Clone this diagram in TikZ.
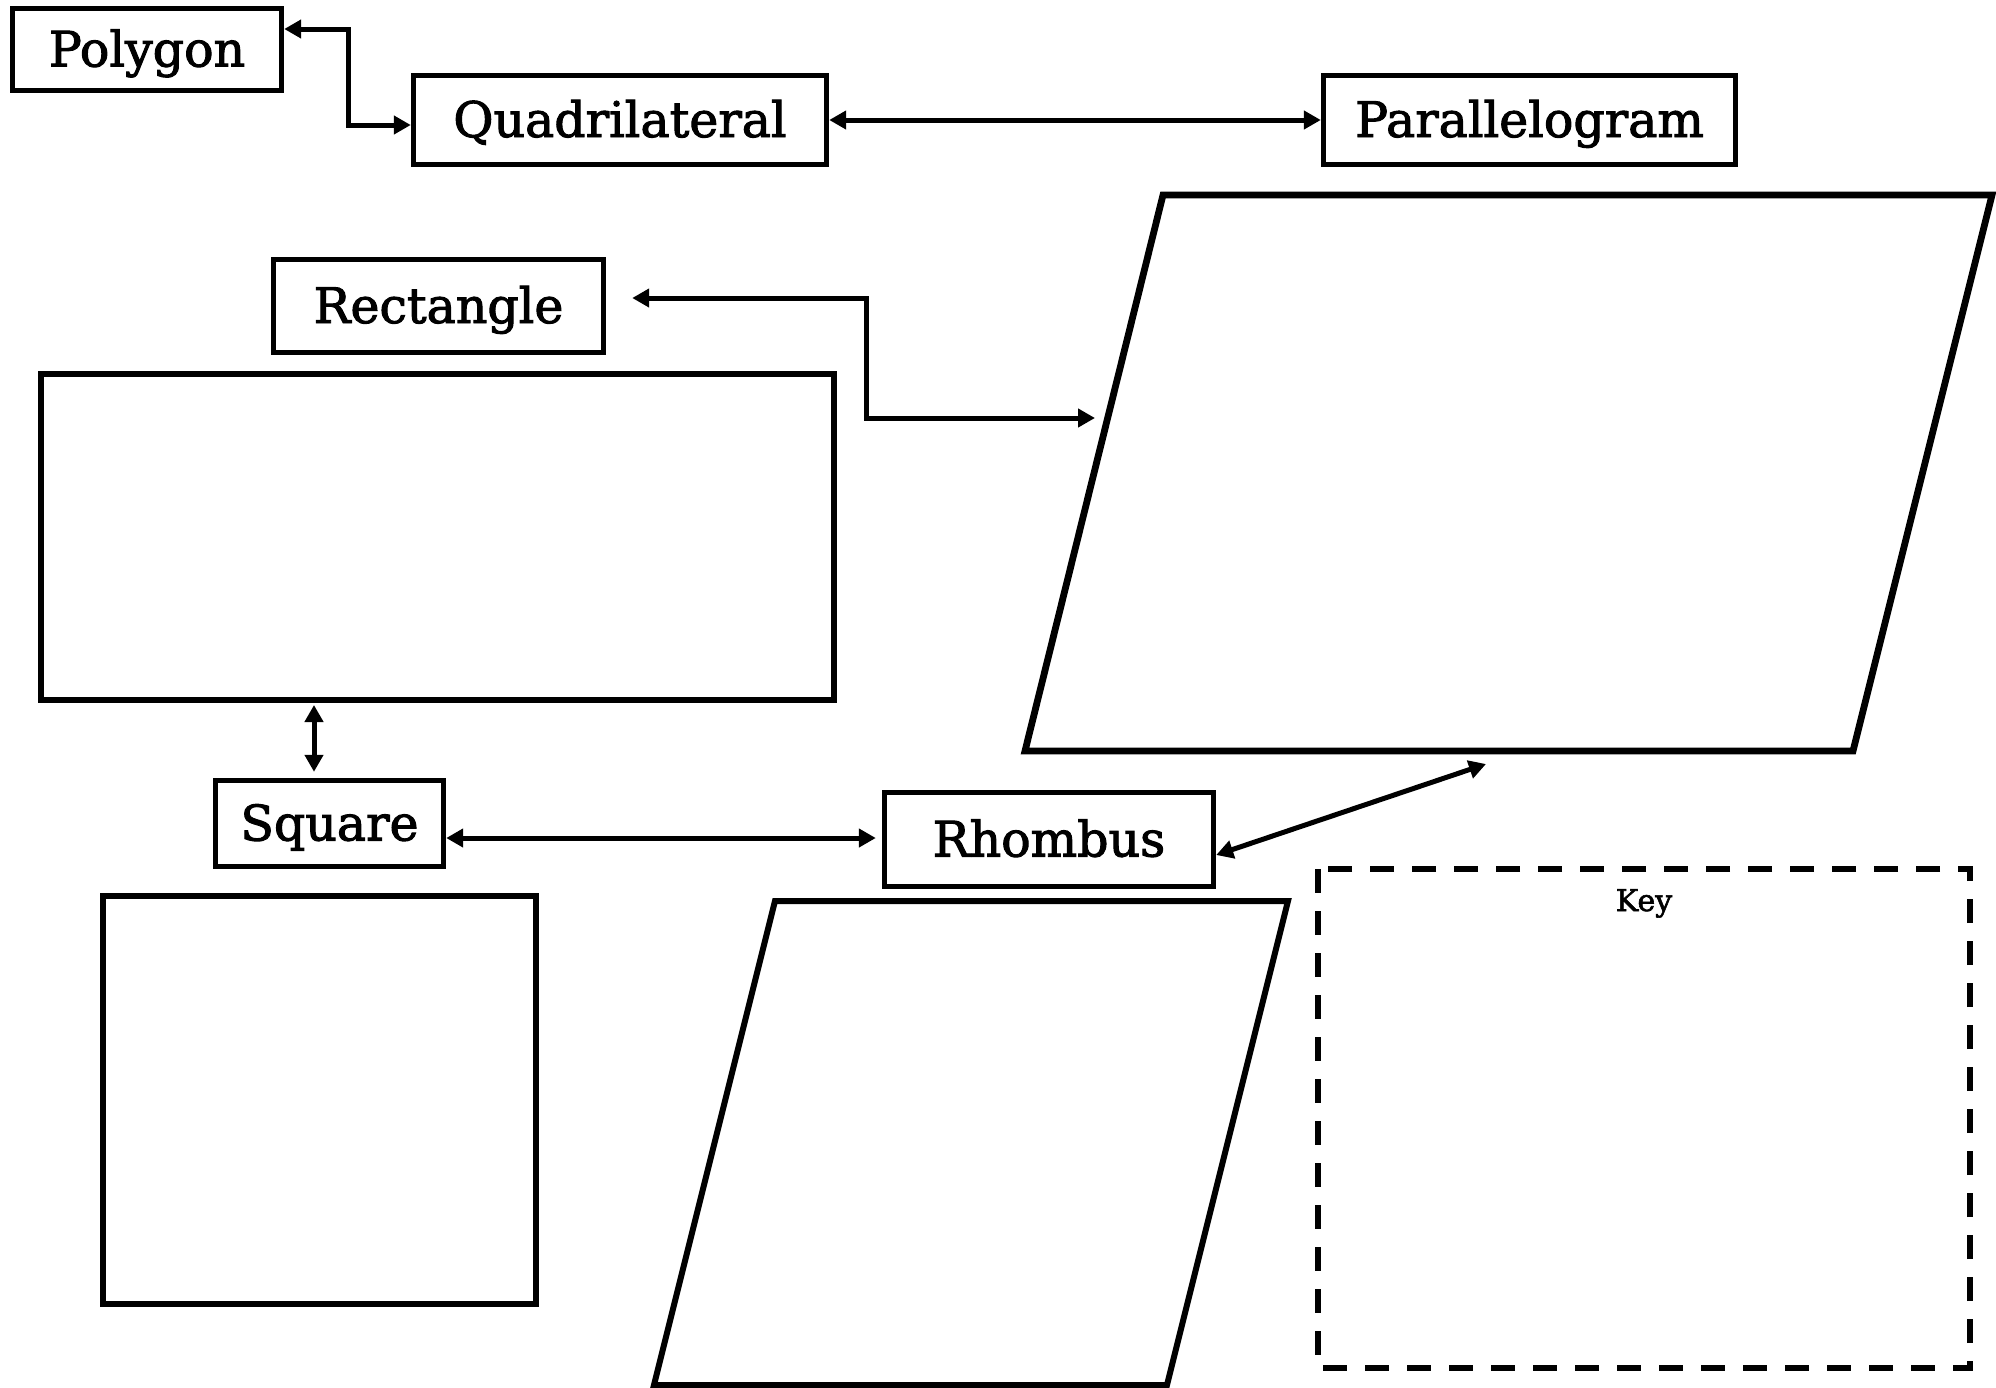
\documentclass[tikz,border=0pt]{standalone}
\usepackage{fontspec}
\setmainfont{DejaVu Serif}
\newfontfamily\labelfont[FakeBold=2]{DejaVu Serif}
\usetikzlibrary{arrows.meta,calc}

\tikzset{
	namebox/.style={draw, line width=2.7pt, inner sep=0pt, text height=17pt, text depth=0pt, font=\labelfont\fontsize{24.5}{28}\selectfont},
	link/.style={line width=2.5pt, {Triangle[length=8.5pt,width=9pt]}-{Triangle[length=8.5pt,width=9pt]}},
	outline/.style={line width=3pt, line join=miter},
}

\begin{document}
\begin{tikzpicture}[x=0.5pt, y=-0.5pt]
			\useasboundingbox (0,0) rectangle (1996,1387);
			%%%%% START %%%%%
			
			\node[namebox, minimum width=134.5pt, minimum height=41pt] (polygon) at (147, 49.5) {Polygon};
			\node[namebox, minimum width=206.5pt, minimum height=44.5pt] (quad) at (620, 120) {Quadrilateral};
			\node[namebox, minimum width=206pt, minimum height=44.5pt] (parlbl) at (1529.5, 120) {Parallelogram};
			\node[namebox, minimum width=165pt, minimum height=46.5pt] (rectlbl) at (438.5, 306) {Rectangle};
			\node[namebox, minimum width=114pt, minimum height=43pt] (sqlbl) at (329.5, 823.5) {Square};
			\node[namebox, minimum width=164.5pt, minimum height=47pt] (rhlbl) at (1049, 839.5) {Rhombus};
			
			% shapes
			\draw[outline, line width=3.4pt] (1163, 195) -- (1992, 195) -- (1853, 751) -- (1025, 751) -- cycle;
			\draw[outline] (41, 374) rectangle (834, 700);
			\draw[outline] (103, 896) rectangle (536, 1304);
			\draw[outline] (775, 901) -- (1288, 901) -- (1167, 1385) -- (654, 1385) -- cycle;
			
			% key
			\draw[line width=3pt, dash pattern=on 12pt off 9pt] (1318, 869) rectangle (1970, 1368);
			\node[anchor=base, font=\labelfont\fontsize{15}{17}\selectfont] (key) at (1644, 911) {Key};
			
			\coordinate (pgleft) at (1095, 418);
			\coordinate (pgbot) at (1486, 764);
			\coordinate (rectbot) at (314, 705);
			
			\draw[link] (polygon.east |- 0,29) -| (348, 125) -- (quad.west |- 0,125);
			\draw[link] (quad.east) -- (parlbl.west);
			\draw[link] ($(rectlbl.east)+(26,-8)$) -| (866, 418) -- (pgleft);
			\draw[link, shorten >=3pt] (rectbot) -- (sqlbl.north -| rectbot);
			\draw[link, shorten >=3pt] (sqlbl.east |- 0,838) -- (rhlbl.west |- 0,838);
			\draw[link] (rhlbl.east |- 0,855) -- (pgbot);
			
			%%%%% END %%%%%
\end{tikzpicture}
\end{document}
